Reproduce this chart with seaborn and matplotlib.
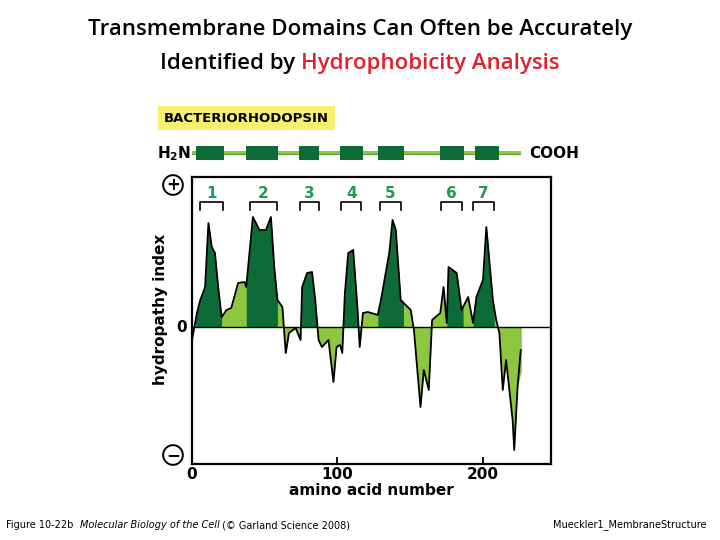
import numpy as np
import pandas as pd
import matplotlib
matplotlib.use("Agg")
import matplotlib.pyplot as plt
import seaborn as sns

aa = [0,3.4,5.7,9,11.3,13.6,15.8,18,20.4,23.8,27,31.7,36.2,37.3,41.9,46.4,50.9,54.3,56.6,58.8,62.2,64.5,66.7,71.3,74.7,75.8,79.2,82.6,84.8,87.1,89.4,93.9,97.3,99.5,101.8,103.4,105.2,107.5,110.9,113.8,115.4,117.6,121,127.8,130,135.7,138,140.2,143.6,150.5,152.7,157.2,159.5,162.9,165.2,170.8,173.1,175.3,176.5,182.1,185.5,190,193.4,195.7,200.2,202.5,207,209.3,211.5,213.8,216.1,220.6,221.7,224,226.2,226.2]
hyd = [-1.3,1.4,2.7,4.0,10.4,8.0,7.4,4.0,1.0,1.7,1.9,4.4,4.5,4.0,11.0,9.7,9.7,11.0,6.0,2.7,2.0,-2.6,-0.6,-0.1,-1.3,4.0,5.4,5.5,2.7,-1.3,-2.0,-1.3,-5.5,-2.0,-1.8,-2.6,3.4,7.4,7.7,2.0,-2.0,1.4,1.5,1.2,2.7,7.4,10.7,9.7,2.7,1.7,-0.3,-8.0,-4.3,-6.3,0.7,1.4,4.0,0.4,6.0,5.4,1.7,3.0,0.4,3.0,4.7,10.0,2.7,0.7,-0.6,-6.3,-3.3,-9.3,-12.3,-6.0,-4.6,0]
helix_fill = [(2.3,20.4),(37.3,58.8),(75.3,85.9),(103.6,114.9),(127.8,145.5),(175.3,186.6),(193.4,208)]
brackets = [(5.7,21.1),(39.6,58.8),(74,87.5),(102.7,116.3),(129.5,143.8),(171.5,185.7),(193.4,207.7)]
bar_segs = [(2.7,21.9),(37.3,59.4),(73.5,87.7),(101.8,117.6),(127.8,145.9),(170.8,187.3),(194.6,211.1)]
xticks = [0,100,200]
dark = "#0d6b38"; light = "#8dc63f"

df = pd.DataFrame({"aa": aa, "h": hyd})
fig = plt.figure(figsize=(7.2,5.4), dpi=100)
W, H = 720, 540
ax = fig.add_axes([192/W, 1-464/H, 359/W, 287/H])
ax.set_xlim(0, 247); ax.set_ylim(-13.7, 15)
xf = np.linspace(0, 226.2, 3000)
yf = np.interp(xf, aa, hyd)
ax.fill_between(xf, 0, yf, color=light, lw=0)
for a, b in helix_fill:
    m = (xf >= a) & (xf <= b) & (yf > 0)
    ax.fill_between(xf, 0, yf, where=m, color=dark, lw=0)
sns.lineplot(data=df, x="aa", y="h", ax=ax, color="black", lw=1.3, sort=False)
ax.axhline(0, color="black", lw=1.0)
for i, (a, b) in enumerate(brackets):
    ax.plot([a, a, b, b], [11.7, 12.5, 12.5, 11.7], color="black", lw=1.2)
    ax.text((a+b)/2, 13.4, str(i+1), color="#1f9a55", fontsize=11, fontweight="bold", ha="center", va="center")
for s in ax.spines.values():
    s.set_linewidth(1.6)
ax.set_xticks(xticks); ax.set_xticklabels([str(t) for t in xticks], fontsize=11, fontweight="bold")
ax.tick_params(axis="x", direction="in", length=5, width=1.3, pad=2)
ax.set_yticks([]); ax.set_xlabel("amino acid number", fontsize=11, fontweight="bold", labelpad=1)
ax.set_ylabel("")

bx = fig.add_axes([192/W, 1-163/H, 359/W, 20/H], sharex=ax)
bx.set_ylim(0, 1); bx.axis("off")
bx.fill_between([0, 226.2], 0.38, 0.62, color=light, lw=0)
bx.fill_between([0, 226.2], 0.38, 0.46, color="#5a9a2a", lw=0)
for a, b in bar_segs:
    bx.fill_between([a, b], 0.15, 0.85, color=dark, lw=0)
fig.text(157/W, 1-154/H, "H$_\\mathbf{2}$N", fontsize=11, fontweight="bold", va="center")
fig.text(529/W, 1-154/H, "COOH", fontsize=11, fontweight="bold", va="center")
fig.text(164/W, 1-118/H, "BACTERIORHODOPSIN", fontsize=9.5, fontweight="bold", va="center",
         bbox=dict(boxstyle="square,pad=0.45", fc="#f7ef6e", ec="none"))
fig.text(160/W, 1-309/H, "hydropathy index", fontsize=11, fontweight="bold", rotation=90, ha="center", va="center")
fig.text(182/W, 1-327/H, "0", fontsize=11, fontweight="bold", ha="center", va="center")
for yy, s in [(185, "+"), (455, "−")]:
    fig.text(173/W, 1-yy/H, s, fontsize=12, fontweight="bold", ha="center", va="center",
             bbox=dict(boxstyle="circle,pad=0.05", fc="white", ec="black", lw=1.4))

tf = "Open Sans"
fig.text(0.5, 1-30/H, "Transmembrane Domains Can Often be Accurately", fontsize=16, family=tf,
         fontweight="semibold", ha="center", va="center")
t1 = fig.text(0, 1-63/H, "Identified by ", fontsize=16, family=tf, fontweight="semibold", va="center")
t2 = fig.text(0, 1-63/H, "Hydrophobicity Analysis", fontsize=16, family=tf, fontweight="semibold",
              color="#e0202a", va="center")
r = fig.canvas.get_renderer()
w1 = t1.get_window_extent(r).width; w2 = t2.get_window_extent(r).width
x0 = (W - w1 - w2)/2
t1.set_x(x0/W); t2.set_x((x0+w1)/W)
a1 = fig.text(6/W, 1-525/H, "Figure 10-22b  ", fontsize=7, va="center")
a2 = fig.text(0, 1-525/H, "Molecular Biology of the Cell", fontsize=7, style="italic", va="center")
a3 = fig.text(0, 1-525/H, " (© Garland Science 2008)", fontsize=7, va="center")
xx = 6 + a1.get_window_extent(r).width
a2.set_x(xx/W); xx += a2.get_window_extent(r).width; a3.set_x(xx/W)
fig.text(553/W, 1-525/H, "Mueckler1_MembraneStructure", fontsize=7, va="center")
fig.savefig("out.png", dpi=100)
